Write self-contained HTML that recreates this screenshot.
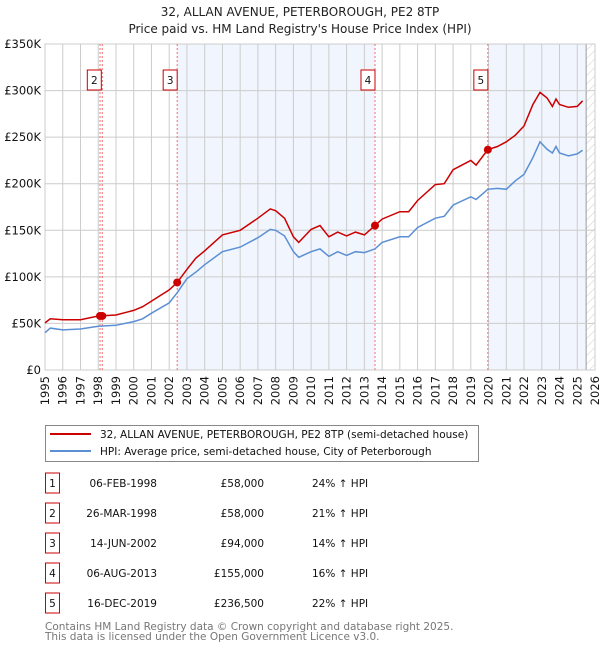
<!DOCTYPE html>
<html><head><meta charset="utf-8"><style>
body{margin:0;background:#fff;font-family:"Liberation Sans","DejaVu Sans",sans-serif;}
svg text{font-family:"DejaVu Sans","Liberation Sans",sans-serif;}
</style></head><body>
<svg id="c" width="600" height="650" viewBox="0 0 600 650" xmlns="http://www.w3.org/2000/svg">
<defs><pattern id="hatch" width="6" height="6" patternUnits="userSpaceOnUse" patternTransform="rotate(45)"><line x1="0" y1="0" x2="0" y2="6" stroke="#ccc" stroke-width="1"/></pattern></defs>
<text x="300" y="16" text-anchor="middle" font-size="12" fill="#222">32, ALLAN AVENUE, PETERBOROUGH, PE2 8TP</text>
<text x="300" y="33" text-anchor="middle" font-size="12" fill="#222">Price paid vs. HM Land Registry's House Price Index (HPI)</text>
<g id="plot"></g>
<g>
<rect x="45.5" y="425.5" width="433" height="36" fill="#fff" stroke="#888"/>
<line x1="50" y1="434" x2="91" y2="434" stroke="#cc0000" stroke-width="2"/>
<text x="100" y="438" font-size="10.5" fill="#111">32, ALLAN AVENUE, PETERBOROUGH, PE2 8TP (semi-detached house)</text>
<line x1="50" y1="451" x2="91" y2="451" stroke="#5b8fd4" stroke-width="2"/>
<text x="100" y="455" font-size="10.5" fill="#111">HPI: Average price, semi-detached house, City of Peterborough</text>
</g>
<g id="table" font-size="10.5" fill="#111"></g>
<text x="45" y="630" font-size="10.5" fill="#777">Contains HM Land Registry data © Crown copyright and database right 2025.</text>
<text x="45" y="640" font-size="10.5" fill="#777">This data is licensed under the Open Government Licence v3.0.</text>
</svg>
<script>
const years=[1995,1995.3,1996,1997,1998,1999,2000,2000.5,2001,2002,2002.45,2003,2003.5,2004,2005,2006,2007,2007.7,2008,2008.5,2009,2009.3,2010,2010.5,2011,2011.5,2012,2012.5,2013,2013.6,2014,2015,2015.5,2016,2017,2017.5,2018,2019,2019.3,2019.96,2020.5,2021,2021.5,2022,2022.5,2022.9,2023.3,2023.6,2023.8,2024,2024.5,2025,2025.3];
const priceSeries=[50.6,55,54,54,58,59,64,68,74,86,94,108,120,128,145,150,163,173,171,163,143,137,151,155,143,148,144,148,145,155,162,170,170,182,199,200,215,225,220,236.5,240,245,252,262,285,298,292,283,291,285,282,283,289];
const hpiSeries=[40,45,43,44,47,48,52,55,61,72,83,98,105,113,127,132,142,151,150,144,127,121,127,130,122,127,123,127,126,130,137,143,143,153,163,165,177,186,183,194,195,194,203,210,228,245,237,233,240,233,230,232,236];
const yTicks=[0,50,100,150,200,250,300,350];
const yTickLabels=["£0","£50K","£100K","£150K","£200K","£250K","£300K","£350K"];
const saleNums=["1","2","3","4","5"];
const saleDates=[1998.1,1998.23,2002.45,2013.6,2019.96];
const salePrices=[58,58,94,155,236.5];
const saleDateLabels=["06-FEB-1998","26-MAR-1998","14-JUN-2002","06-AUG-2013","16-DEC-2019"];
const salePriceLabels=["£58,000","£58,000","£94,000","£155,000","£236,500"];
const saleHpiLabels=["24% ↑ HPI","21% ↑ HPI","14% ↑ HPI","16% ↑ HPI","22% ↑ HPI"];

const L=45,R=595,T=44,B=370,X0=1995,X1=2026,YMAX=350;
const xs=v=>L+(v-X0)/(X1-X0)*(R-L);
const ys=v=>B-v/YMAX*(B-T);
const NS="http://www.w3.org/2000/svg";
const plot=document.getElementById('plot');
function mk(tag,attrs,parent){const e=document.createElementNS(NS,tag);for(const k in attrs)e.setAttribute(k,attrs[k]);(parent||plot).appendChild(e);return e;}

const bg=mk('rect',{x:L,y:T,width:R-L,height:B-T,fill:'#fff'});


const bands=[[saleDates[2],saleDates[3]],[saleDates[4],2025.5]];
bands.forEach(b=>{const r=mk('rect',{x:xs(b[0]),y:T,width:xs(b[1])-xs(b[0]),height:B-T,fill:'#eef2fc',opacity:0.8});

});
const h=mk('rect',{x:xs(2025.5),y:T,width:R-xs(2025.5),height:B-T,fill:'url(#hatch)'});


mk('line',{x1:xs(2025.5),y1:T,x2:xs(2025.5),y2:B,stroke:'#999','stroke-width':1});
for(let y=X0;y<=X1;y++){
 const g=mk('line',{x1:xs(y),y1:T,x2:xs(y),y2:B,stroke:'#ccc','stroke-width':1});
 
 
 const t=mk('text',{x:0,y:0,'font-size':11.5,fill:'#111','text-anchor':'end',transform:`translate(${xs(y)+4},${B+6}) rotate(-90)`});
 t.textContent=y;
 
 
}
yTicks.forEach((v,i)=>{
 const g=mk('line',{x1:L,y1:ys(v),x2:R,y2:ys(v),stroke:'#ccc','stroke-width':1});
 
 
 const t=mk('text',{x:L-4,y:ys(v)+4,'font-size':11.5,fill:'#111','text-anchor':'end'});
 t.textContent=yTickLabels[i];
 
 
});
mk('rect',{x:L,y:T,width:R-L,height:B-T,fill:'none',stroke:'#ccc'});
saleDates.forEach((d,i)=>{
 const l=mk('line',{x1:xs(d),y1:T,x2:xs(d),y2:B,stroke:'#f07070','stroke-width':1,'stroke-dasharray':'2,2'});
 
 
 if(i===0)return;
 const bx=xs(d)-(i===1?8:7), g=mk('g',{});
 
 
 mk('rect',{x:bx-7,y:70,width:14,height:20,fill:'#fff',stroke:'#cc0000'},g);
 const t=mk('text',{x:bx,y:84,'font-size':10.5,'text-anchor':'middle',fill:'#111'},g);t.textContent=saleNums[i];
});
function line(vals,color,name){
 const p=mk('path',{d:years.map((y,i)=>(i?'L':'M')+xs(y).toFixed(1)+','+ys(vals[i]).toFixed(1)).join(''),fill:'none',stroke:color,'stroke-width':1.5});
 
 
}
line(hpiSeries,'#5b8fd4','hpi-line');
line(priceSeries,'#cc0000','price-line');
saleDates.forEach((d,i)=>{
 const c=mk('circle',{cx:xs(d),cy:ys(salePrices[i]),r:4,fill:'#cc0000'});
 
 
});
const tb=document.getElementById('table');
saleNums.forEach((n,i)=>{
 const cy=483+i*30;
 const g=mk('g',{},tb);
 
 
 mk('rect',{x:45.5,y:cy-10,width:14,height:20,fill:'#fff',stroke:'#cc0000'},g);
 const a=mk('text',{x:52.5,y:cy+4,'text-anchor':'middle'},g);a.textContent=n;
 const b=mk('text',{x:157,y:cy+4,'text-anchor':'end'},g);b.textContent=saleDateLabels[i];
 const c=mk('text',{x:264,y:cy+4,'text-anchor':'end'},g);c.textContent=salePriceLabels[i];
 const e=mk('text',{x:312,y:cy+4},g);e.textContent=saleHpiLabels[i];
});
</script>
</body></html>
